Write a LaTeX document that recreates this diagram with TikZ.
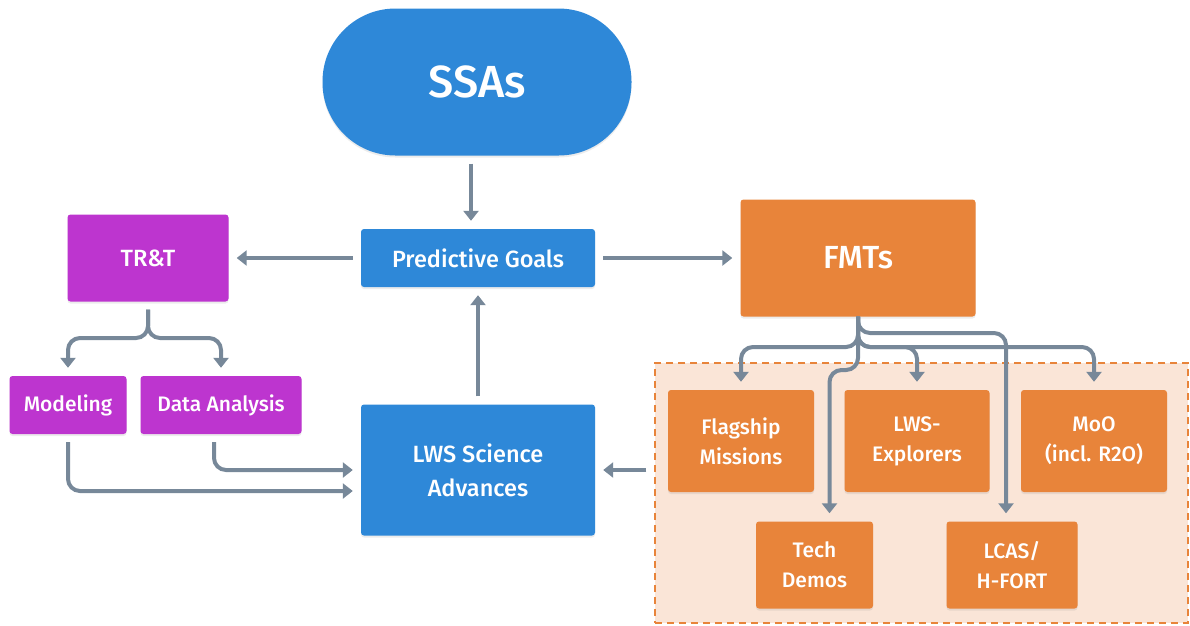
\documentclass[tikz,border=0pt]{standalone}
\usepackage{fontspec}
\setmainfont{Fira Sans}[UprightFont={* Medium}]
\usetikzlibrary{arrows.meta,shadows}

\definecolor{ssablue}{HTML}{2E88D8}
\definecolor{trtpurple}{HTML}{BD35CF}
\definecolor{fmtorange}{HTML}{E8843A}
\definecolor{famfill}{HTML}{FAE5D7}
\definecolor{arrgray}{HTML}{778899}

\begin{document}
\begin{tikzpicture}[x=1pt,y=-1pt,
  box/.style={rectangle,rounded corners=3pt,text=white,align=center,inner sep=0pt,
    drop shadow={shadow xshift=0pt,shadow yshift=-2pt,opacity=0.15}},
  bluebox/.style={box,fill=ssablue},
  purplebox/.style={box,fill=trtpurple},
  orangebox/.style={box,fill=fmtorange},
  big/.style={font=\fontsize{23.5}{34}\selectfont},
  small/.style={font=\fontsize{21}{30}\selectfont},
  arr/.style={draw=arrgray,line width=4pt,-{Triangle[width=15pt,length=10pt]},
    shorten >=8pt,shorten <=8pt,rounded corners=12pt}]

\useasboundingbox (0,0) rectangle (1190,625);

\node[rectangle,draw=fmtorange,fill=famfill,dashed,line width=1.5pt,dash pattern=on 7pt off 5pt,
  minimum width=533,minimum height=260,inner sep=0pt] (fam) at (921.5,493) {};

\node[bluebox,rounded corners=73pt,minimum width=309,minimum height=147,
  font=\fontsize{45}{50}\selectfont] (ssa) at (477,82) {SSAs};
\node[bluebox,big,minimum width=234,minimum height=58] (pg) at (478,258) {Predictive Goals};
\node[bluebox,big,minimum width=234,minimum height=131] (lws) at (478,470) {LWS Science\\Advances};

\node[purplebox,big,minimum width=161,minimum height=87] (trt) at (148,258) {TR\&T};
\node[purplebox,small,minimum width=117,minimum height=58] (mod) at (68,405) {Modeling};
\node[purplebox,small,minimum width=161,minimum height=58] (da) at (221,405) {Data Analysis};

\node[orangebox,font=\fontsize{32}{38}\selectfont,minimum width=235,minimum height=117] (fmt) at (858,258) {FMTs};
\node[orangebox,small,minimum width=146,minimum height=102] (flag) at (741,441) {Flagship\\Missions};
\node[orangebox,small,minimum width=145,minimum height=102] (expl) at (917,441) {LWS-\\Explorers};
\node[orangebox,small,minimum width=146,minimum height=102] (moo) at (1094,441) {MoO\\(incl. R2O)};
\node[orangebox,small,minimum width=117,minimum height=87] (tech) at (814.5,565) {Tech\\Demos};
\node[orangebox,small,minimum width=131,minimum height=87] (lcas) at (1012,565) {LCAS/\\H-FORT};

\draw[arr] ([xshift=-6pt]ssa.south) -- ([xshift=-6pt]ssa.south |- pg.north);
\draw[arr] (pg.west) -- (trt.east);
\draw[arr] (pg.east) -- (fmt.west);
\draw[arr] (lws.north) -- (pg.south);

\draw[arr] (trt.south) -- (148,338) -| (mod.north);
\draw[arr] (trt.south) -- (148,338) -| (da.north);
\draw[arr] (mod.south) |- ([yshift=-21pt]lws.west);
\draw[arr] ([xshift=-7pt]da.south) |- (lws.west);

\draw[arr] (fam.west |- lws.east) -- (lws.east);

\draw[arr,shorten <=0pt] (fmt.south) -- (858,347) -| (flag.north);
\draw[arr,shorten <=0pt] (fmt.south) -- (858,347) -| (expl.north);
\draw[arr,shorten <=0pt] (fmt.south) -- (858,347) -| (moo.north);
\draw[arr,shorten <=0pt] (fmt.south) -- (858,333) -| ([xshift=-6pt]lcas.north);
\draw[arr,shorten <=0pt] (fmt.south) -- (858,370) -| ([xshift=15pt]tech.north);

\end{tikzpicture}
\end{document}
